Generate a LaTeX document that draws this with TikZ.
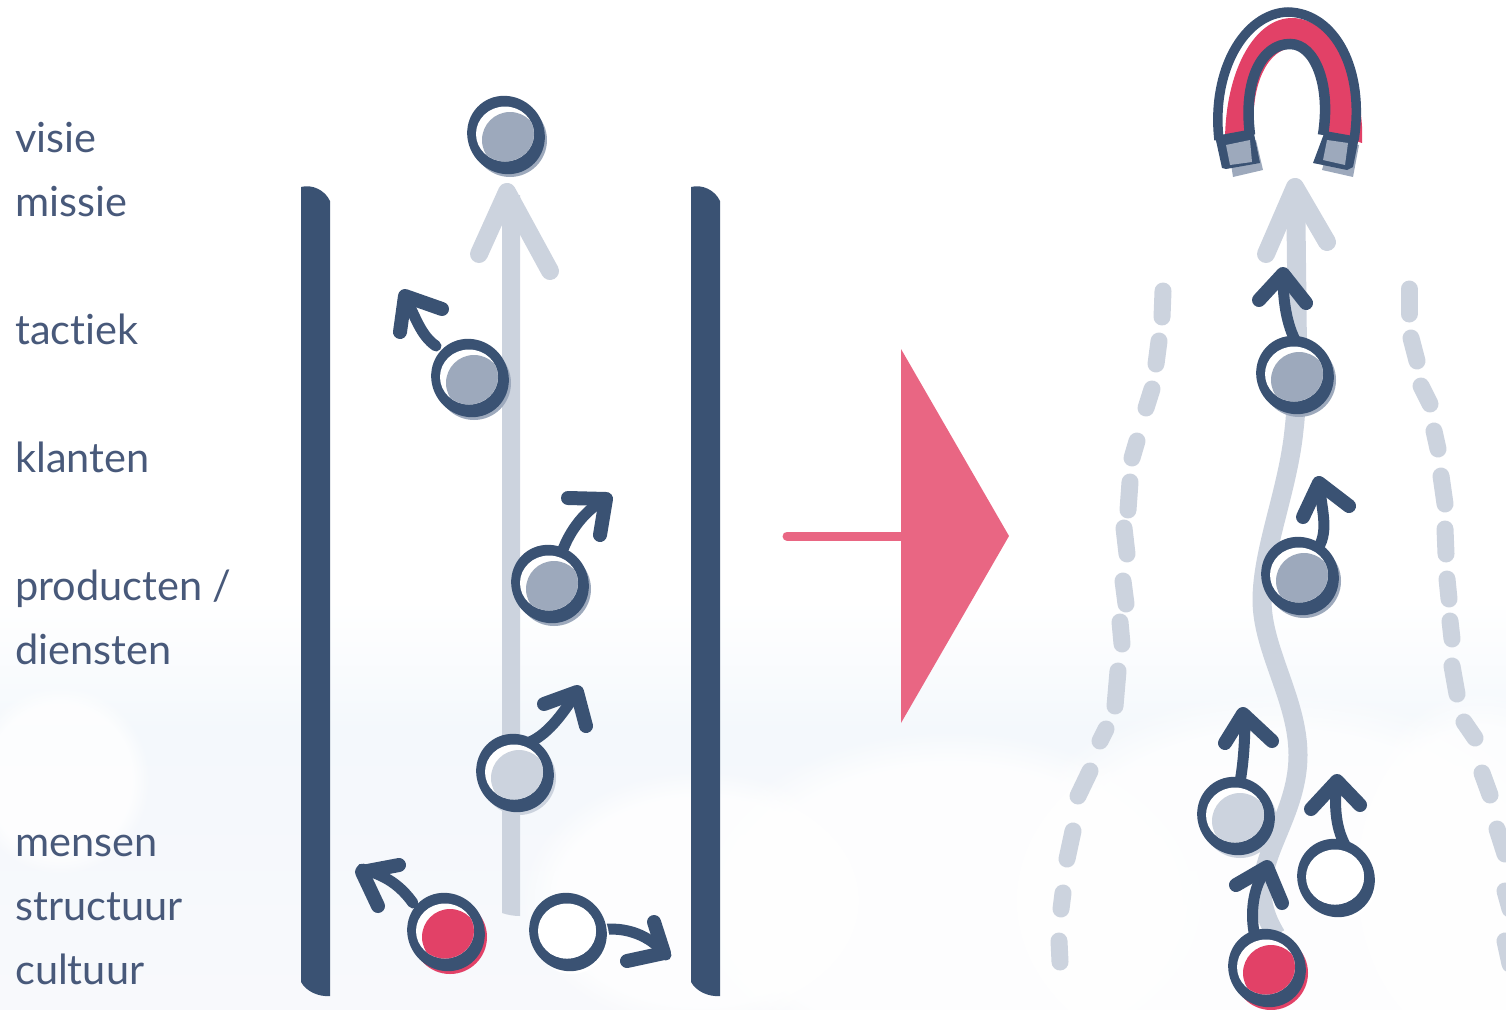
\documentclass[tikz,border=0pt]{standalone}
\usepackage{fontspec}
\setmainfont{Lato}[Ligatures=NoCommon]
\usetikzlibrary{fadings}
\definecolor{navy}{HTML}{3A5273}
\definecolor{labelblue}{HTML}{48597A}
\definecolor{mist}{HTML}{CCD3DE}
\definecolor{slate}{HTML}{9DA9BC}
\definecolor{rood}{HTML}{E24167}
\definecolor{roze}{HTML}{E96683}
\definecolor{haze}{HTML}{F4F8FC}
\definecolor{haze low}{HTML}{F8F9FC}
\tikzset{
  label text/.style={anchor=base west, text=labelblue, font=\fontsize{41.5}{42}\selectfont},
  shaft/.style={draw=navy, line width=11, line cap=round},
  head/.style={draw=navy, line width=14, line cap=round, line join=round},
  gap mark/.style={draw=mist, line width=17, line cap=round},
  guide head/.style={draw=mist, line width=18, line cap=round, line join=round},
  cloud puff/.style={fill=white, fill opacity=0.8, path fading=circle with fuzzy edge 20 percent},
}
% ring met vulling: x, y, kleur
\newcommand{\marble}[3]{
  \fill[#3] (#1+4,#2+5) circle [radius=37];
  \fill[navy] (#1,#2) circle [x radius=40, y radius=38, rotate=-50];
  \fill[white] (#1-1,#2-1) circle [x radius=29, y radius=27.5];
  \begin{scope}
    \clip (#1-1,#2-1) circle [x radius=29, y radius=27.5];
    \fill[#3] (#1+4,#2+5) circle [radius=28];
  \end{scope}
}
\begin{document}
\begin{tikzpicture}[x=1pt, y=-1pt]
\useasboundingbox (0,0) rectangle (1506,1009);

% Achtergrond
\shade[top color=white, bottom color=haze] (0,600) rectangle (1506,730);
\shade[top color=haze, bottom color=haze low] (0,730) rectangle (1506,1009);
\path[cloud puff] (60,780) circle [x radius=90, y radius=95];
\path[cloud puff] (950,900) circle [x radius=260, y radius=170];
\path[cloud puff] (1280,900) circle [x radius=300, y radius=210];
\path[cloud puff] (1480,880) circle [x radius=140, y radius=190];
\path[cloud puff] (700,900) circle [x radius=180, y radius=130];

% Begrippen
\foreach \y/\word [count=\i] in {152/visie, 216/missie, 344/tactiek, 472/klanten,
    600/{producten /}, 664/diensten, 856/mensen, 920/structuur, 984/cultuur} {
  \node[label text, inner sep=0pt] (word\i) at (15,\y) {\word};
}

% Wanden
\fill[navy] (301,187) .. controls (312,184) and (325,190) .. (330,201) -- (330,996)
  .. controls (318,997) and (306,991) .. (301,982) -- cycle;
\fill[navy] (691,187) .. controls (702,184) and (715,190) .. (720,201) -- (720,996)
  .. controls (708,997) and (696,991) .. (691,982) -- cycle;

% Pijl links
\fill[mist] (502,195) -- (520,195) -- (520,916) .. controls (514,916) and (508,915) .. (502,913) -- cycle;
\draw[guide head] (479,254) -- (507,192) -- (550,271);

% Grote pijl
\draw[roze, line width=9, line cap=round] (787,536) -- (905,536);
\fill[roze] (901,349) -- (1009,536) -- (901,723) -- cycle;

% Pijl rechts
\draw[mist, line width=19] (1296,200) .. controls (1296,290) and (1300,380) .. (1294,430)
  .. controls (1288,490) and (1262,550) .. (1262,600)
  .. controls (1262,650) and (1298,700) .. (1298,755)
  .. controls (1298,810) and (1262,850) .. (1262,890)
  .. controls (1262,910) and (1270,925) .. (1276,935);
\draw[guide head] (1266,254) -- (1295,187) -- (1327,242);

% Stippellijnen
\foreach \xa/\ya/\xb/\yb in {
    1163/291/1162/317, 1159/341/1156/364, 1152/389/1146/408, 1137/441/1132/458,
    1130/482/1128/510, 1124/528/1127/554, 1123/581/1126/604, 1120/622/1122/644,
    1118/671/1115/706, 1106/729/1100/741, 1090/771/1078/796, 1073/831/1067/859,
    1063/893/1061/909, 1059/941/1060/962,
    1409/289/1409/314, 1411/338/1417/361, 1421/386/1430/404, 1434/431/1438/449,
    1441/476/1445/504, 1445/529/1446/554, 1447/579/1449/599, 1450/621/1452/639,
    1452/666/1457/694, 1464/722/1475/738, 1482/773/1490/795, 1497/829/1505/854,
    1505/891/1510/909, 1505/941/1510/964} {
  \draw[gap mark] (\xa,\ya) -- (\xb,\yb);
}

% Magneet
\fill[slate] (1233,177) -- (1263,170) -- (1256,140) -- (1228,145) -- cycle;
\fill[slate] (1322,170) -- (1353,177) -- (1359,145) -- (1330,140) -- cycle;
\fill[rood] (1225,142) .. controls (1225,70) and (1255,18) .. (1292,18)
  .. controls (1335,18) and (1365,85) .. (1362,143) -- (1327,132)
  .. controls (1333,85) and (1316,48) .. (1293,48)
  .. controls (1268,48) and (1250,85) .. (1254,133) -- cycle;
\draw[navy, line width=9.5] (1219,140) .. controls (1211,70) and (1245,13) .. (1288,12)
  .. controls (1335,13) and (1365,70) .. (1354,140);
\draw[navy, line width=10.5] (1250,135) .. controls (1243,80) and (1262,44) .. (1290,44)
  .. controls (1315,44) and (1331,85) .. (1323,135);
\fill[navy] (1215,136) -- (1253,129) -- (1260,163) -- (1226,169) -- (1222,168) -- cycle;
\fill[navy] (1325,131) -- (1359,137) -- (1353,167) -- (1347,170) -- (1313,163) -- cycle;
\fill[slate] (1226,145) -- (1250,140) -- (1252,162) -- (1230,165) -- cycle;
\fill[slate] (1327,140) -- (1348,143) -- (1345,165) -- (1323,160) -- cycle;

% Figuren links
\marble{506}{135}{slate}

\draw[shaft] (436,346) .. controls (420,335) and (415,315) .. (405,297);
\draw[head] (400,332) -- (405,296) -- (442,309);
\marble{470}{378}{slate}

\draw[shaft] (562,552) .. controls (570,530) and (585,510) .. (607,498);
\draw[head] (568,498) -- (606,499) -- (600,535);
\marble{550}{584}{slate}

\draw[shaft] (530,742) .. controls (550,733) and (565,710) .. (577,692);
\draw[head] (544,704) -- (577,692) -- (586,726);
\marble{515}{773}{mist}

\draw[shaft] (413,903) .. controls (400,885) and (385,875) .. (362,869);
\draw[head] (399,865) -- (362,872) -- (378,906);
\marble{446}{932}{rood}

\draw[shaft] (600,930) .. controls (625,926) and (650,935) .. (666,955);
\draw[head] (654,922) -- (664,953) -- (627,961);
\marble{568}{932}{white}

% Figuren rechts
\draw[shaft] (1295,340) .. controls (1285,320) and (1283,295) .. (1283,275);
\draw[head] (1259,300) -- (1283,274) -- (1306,303);
\marble{1295}{375}{slate}

\draw[shaft] (1318,548) .. controls (1330,530) and (1320,505) .. (1320,485);
\draw[head] (1303,517) -- (1319,483) -- (1349,506);
\marble{1300}{576}{slate}

\draw[shaft] (1240,782) .. controls (1244,760) and (1245,735) .. (1245,715);
\draw[head] (1225,743) -- (1243,714) -- (1272,741);
\marble{1236}{816}{mist}

\draw[shaft] (1348,850) .. controls (1335,830) and (1334,805) .. (1337,782);
\draw[head] (1311,809) -- (1337,781) -- (1360,805);
\marble{1336}{878}{white}

\draw[shaft] (1254,932) .. controls (1250,910) and (1254,885) .. (1266,870);
\draw[head] (1236,885) -- (1267,867) -- (1282,903);
\marble{1267}{968}{rood}

\end{tikzpicture}
\end{document}
